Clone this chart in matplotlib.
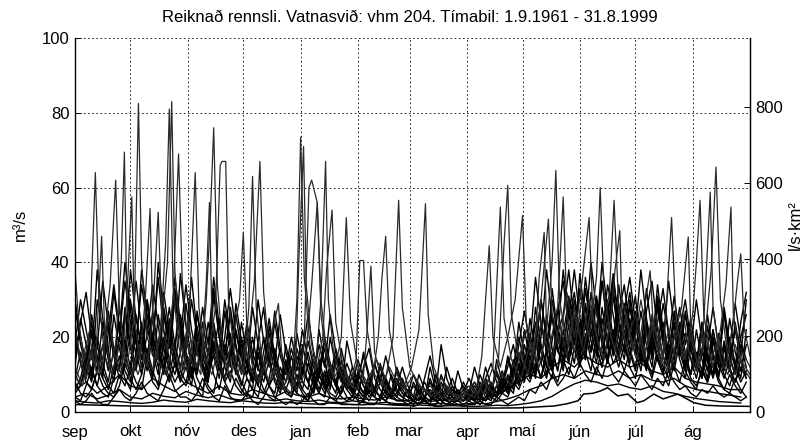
import numpy as np
import matplotlib
matplotlib.use("Agg")
import matplotlib.pyplot as plt

plt.rcParams['font.family'] = ['Liberation Sans', 'DejaVu Sans']

title = "Reiknað rennsli. Vatnasvið: vhm 204. Tímabil: 1.9.1961 - 31.8.1999"
months = ['sep', 'okt', 'nóv', 'des', 'jan', 'feb', 'mar', 'apr', 'maí', 'jún', 'júl', 'ág']
month_start = [0, 30, 61, 91, 122, 153, 181, 212, 242, 273, 303, 334]
area_factor = 9.8   # l/s/km2 per m3/s

# ---- years carrying the tallest peaks: (day, m3/s) ----
peak_year_a = [(0,8),(4,14),(8,22),(11,64),(13,30),(16,15),(20,10),(24,18),(28,12),(32,25),(34.3,82.5),(36,40),(39,20),(43,14),(47,24),(50,16),(53,30),(56,69),(58,35),(61,18),(64,12),(68,22),(72,15),(76,28),(78.5,66),(79.5,67),(81.5,67),(83,30),(86,16),(90,10),(94,20),(97,35),(100,67),(102,32),(105,16),(109,10),(113,7),(117,12),(121,8),(124,20),(126.5,60),(128,62),(131,56),(133,30),(136,16),(140,10),(144,20),(146.7,52),(149,24),(153,12),(158,8),(163,14),(168,9),(172,20),(175,56.6),(177,28),(181,12),(186,7),(192,5),(198,9),(204,5),(210,4),(216,8),(221,5),(226,12),(230,54.8),(232,25),(236,14),(241,9),(246,18),(251,12),(255,22),(258,40),(260,64.6),(262,30),(266,18),(270,26),(275,16),(280,30),(285,20),(289,32),(291.5,56.6),(294,28),(298,18),(303,26),(308,16),(313,24),(318,14),(320,30),(322.6,52),(325,24),(329,14),(333,20),(337,12),(341,22),(344,38),(346.6,65.5),(349,30),(353,15),(357,10),(361,16),(365,12)]

peak_year_b = [(0,12),(4,7),(8,16),(12,10),(16,20),(19,34),(22,62),(24,28),(27,15),(31,10),(35,18),(39,12),(42,26),(45,53.4),(47,24),(50,40),(52.3,83),(54,38),(57,18),(61,11),(64,20),(68,12),(71,30),(73,50),(75,76),(77,34),(80,16),(84,9),(88,16),(91,10),(94,28),(96,63),(98,28),(101,14),(105,8),(109,12),(113,7),(117,5),(120,30),(122,73.5),(124,36),(127,18),(130,11),(133,30),(135.5,67),(137,30),(140,15),(144,10),(148,7),(152,12),(156,8),(160,6),(164,20),(166,36),(168,47),(170,22),(174,10),(178,7),(182,12),(186,22),(189.5,55.7),(191,26),(194,12),(198,7),(203,5),(208,4),(213,7),(218,5),(222,9),(226,7),(229,14),(232,45),(234,60.6),(236,26),(240,14),(244,22),(248,13),(252,24),(256,16),(261,28),(264,57.5),(266,26),(270,16),(274,30),(278,20),(282,36),(284,60),(286,32),(290,20),(294,14),(298,26),(302,17),(306,30),(310,18),(314,26),(318,15),(322,11),(326,22),(330,14),(334,26),(336,40),(338,56.6),(340,26),(344,14),(348,20),(352,12),(356,24),(358,34),(360,42.3),(362,22),(365,15)]

peak_year_c = [(0,38),(2,24),(5,14),(8,20),(11,12),(14.4,47),(16,22),(19,12),(22,18),(25,40),(26.7,69.5),(28,30),(31,15),(34,10),(38,16),(42,11),(46,20),(49,45),(51,81),(53,34),(56,18),(59,11),(62,28),(65,64),(67,28),(70,15),(74,10),(78,18),(82,12),(86,22),(89,30),(91,48),(93,22),(96,12),(100,8),(104,14),(108,9),(112,6),(116,10),(119,7),(121,40),(123.6,71),(125,34),(128,18),(131,12),(134,20),(136,38),(139,54),(141,24),(145,12),(149,8),(152,14),(154,40.5),(156,40.5),(158,22),(162,10),(166,7),(170,12),(174,8),(178,6),(183,10),(188,6),(194,4),(200,7),(206,4),(212,3),(217,6),(220,15),(222,30),(224,44.5),(226,20),(230,12),(234,20),(238,30),(242,52.5),(244,24),(248,16),(252,30),(256,51.6),(258,26),(262,18),(266,32),(270,20),(274,34),(278,52),(280,26),(284,16),(288,24),(292,16),(296,30),(300,20),(304,14),(308,28),(311,37.8),(313,20),(317,13),(321,22),(325,14),(329,26),(332,16),(336,11),(340,24),(343.5,58.8),(345,28),(349,14),(353,10),(357,18),(361,12),(365,9)]

peak_year_d = [(0,22),(3,14),(6,9),(10,18),(14,10),(18,26),(21,16),(25,10),(28,30),(30.7,57.5),(32,26),(35,14),(38,30),(40.6,54.4),(42,26),(45,14),(49,10),(53,18),(57,11),(61,24),(64,15),(68,10),(71,35),(72.7,56),(74,26),(77,14),(81,9),(85,15),(88,10),(92,18),(95,11),(99,8),(103,14),(106,20),(110,29),(112,14),(116,8),(120,6),(124,10),(128,34),(131,56),(133,26),(136,14),(140,9),(144,13),(148,8),(152,6),(156,10),(158,22),(160,39),(162,16),(166,8),(170,5),(175,9),(180,5),(186,4),(192,7),(198,4),(205,3),(211,5),(216,4),(221,8),(226,5),(231,10),(236,7),(241,16),(245,10),(249,20),(251,36),(253.7,48),(255,22),(258,14),(262,24),(266,15),(270,28),(274,18),(278,30),(282,20),(286,14),(290,26),(292,38),(294.6,48.5),(296,22),(300,14),(304,22),(308,14),(312,26),(316,16),(320,11),(324,20),(328,28),(331.6,46.8),(333,22),(337,12),(341,20),(345,12),(349,22),(352,34),(354.7,54.8),(356,26),(360,14),(365,10)]

# ---- lowest year (day, m3/s) ----
low_year = [(0,2.0),(30,1.6),(60,1.5),(90,1.4),(120,1.2),(150,1.1),(180,1.0),(210,1.0),(240,1.1),(259,1.6),(266,2.2),(272,3),(275,4.8),(280,5.0),(284,5.6),(288,6.5),(293.5,4.3),(299,4.8),(304,2.5),(307.6,3),(313,4.8),(318,3.5),(326,4.8),(334.6,2.5),(341,1.8),(350,1.6),(365,1.5)]

# ---- other dry years, every 6 days (m3/s) ----
dry_year_a = [3,2.6,2.4,3,2.8, 2.5,2.3,2.6,3.2,2.8, 2.6,3.4,3,2.7,2.5, 3,2.7,2.4,2.3,2.6,
              2.4,2.2,2.1,2.4,2.2, 2,1.9,2.2,2,1.8, 1.7,1.9,1.7,1.6,1.7, 1.6,1.5,1.6,1.8,1.7,
              2,2.4,3,4.2,6, 7.5,8.5,8,7,7.5, 6.5,6,7,5.5,5, 4.2,3.6,3.2,2.8,2.6, 2.4]
dry_year_b = [4,5,3.5,4.5,6, 4,3.5,5,4.2,3.8, 5.5,4.5,3.8,4.6,3.5, 3.2,4,3.4,3,3.5,
              3,2.8,3.2,2.6,2.5, 3,2.5,2.3,2.6,2.2, 2.2,2.5,2.1,2.3,2, 2.1,2.4,2.2,2.8,3.5,
              4.5,6,7,9,10, 9,11,10,9.5,11, 9,10,8.5,8,9, 7,6,5.5,5,4.5, 4]
dry_year_c = [6,8,5,7,10, 7,6,9,7,5.5, 8,6.5,5,7,5, 4.5,6,5,4,5.5,
              4.5,4,5,3.8,3.5, 4,3.5,3.2,4,3.2, 3,3.5,2.8,3.2,2.8, 3,3.5,3.2,4.5,6,
              8,10,9,12,14, 12,15,13,12,14, 12,13,11,10,12, 9,8,7.5,7,6, 6]

# ---- typical years, every 3 days (m3/s) ----
year_01 = [12,25,18,9,30,22,14,8,20,35, 24,15,38,26,16,10,28,19,33,22, 14,9,27,18,11,31,20,12,8,22,
           15,9,6,19,28,14,8,5,12,7, 5,18,11,7,22,13,8,5,14,9, 6,4,12,17,9,6,4,10,6,4,
           3,8,5,3,12,6,4,3,7,4, 3,6,4,10,6,4,14,8,5,9, 16,10,25,17,30,19,12,27,35,22,
           28,18,36,24,30,20,34,26,17,29, 22,31,18,12,26,17,29,21,14,24, 16,10,22,14,9,19,12,26,15,10, 18,12]
year_02 = [6,9,16,11,7,14,24,15,9,12, 30,19,12,21,34,23,14,9,18,26, 17,36,21,13,9,16,25,15,28,18,
           11,22,14,8,16,25,15,9,6,10, 21,13,8,5,12,19,11,7,17,10, 7,14,9,5,4,8,15,9,5,4,
           6,4,3,9,15,8,5,3,4,11, 6,4,3,5,9,5,4,7,12,18, 11,22,14,9,20,38,25,16,21,30,
           19,33,22,40,27,18,25,37,24,16, 30,20,14,27,35,22,15,11,20,28, 18,25,14,9,17,28,17,11,20,13, 9,22]
year_03 = [4,3,7,12,7,5,4,9,15,9, 6,14,22,13,8,6,12,25,15,9, 7,11,6,4,17,10,6,13,21,12,
           8,5,4,10,6,4,3,8,14,8, 5,4,3,7,12,7,4,3,5,9, 5,3,3,6,4,3,9,5,3,3,
           2,3,5,3,2,2,4,7,4,3, 2,3,2,4,3,5,4,6,9,7, 12,8,15,10,18,12,9,22,14,19,
           13,24,16,11,20,14,26,17,12,18, 12,9,16,11,22,14,10,7,13,19, 11,8,6,12,8,15,9,6,5,9, 6,4]
year_04 = [20,13,8,6,11,18,11,26,17,11, 8,16,10,30,19,36,22,14,10,16, 29,18,11,24,15,33,20,13,17,10,
           24,15,10,7,13,21,13,26,16,10, 7,15,26,16,10,6,13,8,5,19, 12,8,5,9,6,12,7,5,11,7,
           5,10,6,4,3,5,18,9,5,4, 8,5,12,7,4,6,10,6,15,10, 24,15,11,28,18,12,33,21,26,38,
           24,15,29,20,31,21,14,33,21,27, 36,24,16,23,15,31,21,14,26,17, 27,17,11,24,15,10,21,13,17,29, 19,14]
year_05 = [8,5,4,6,11,7,5,4,7,13, 9,6,10,17,11,7,20,12,8,11, 8,14,9,6,11,19,12,8,5,9,
           6,4,12,7,5,9,17,10,6,4, 10,6,4,9,5,4,11,7,4,3, 4,8,5,3,6,4,3,5,8,5,
           4,3,2,4,6,4,3,2,3,5, 4,3,5,3,7,4,3,5,4,8, 6,10,8,13,9,16,11,8,14,10,
           17,12,21,14,10,18,13,22,15,11, 16,11,19,13,9,15,11,18,12,8, 14,9,7,11,8,13,8,6,10,7, 5,8]
year_06 = [15,24,32,20,13,9,27,17,11,28, 18,12,24,15,10,26,17,11,32,20, 13,9,20,13,8,24,15,30,19,12,
           18,12,28,18,11,7,10,17,11,20, 13,8,6,16,10,7,20,12,8,13, 9,6,4,7,13,8,5,4,7,12,
           7,4,3,6,4,3,8,5,3,6, 4,3,6,4,9,13,8,5,7,11, 7,13,21,14,9,16,26,17,11,24,
           32,21,14,27,18,35,23,15,29,19, 13,24,16,33,21,14,10,19,31,20, 13,22,14,9,26,16,10,18,11,24, 15,30]
year_07 = [3,2,3,5,3,2,2,4,6,4, 3,5,8,5,4,3,6,10,6,4, 4,3,5,9,6,4,3,7,4,3,
           3,5,3,2,4,7,4,3,2,3, 2,3,5,3,2,2,4,3,2,2, 2,2,3,2,2,4,3,2,2,2,
           2,1.5,2,3,2,1.5,1.5,2,3,2, 1.5,2,2,3,2,2,4,3,2,3, 4,3,6,5,8,6,10,7,9,12,
           9,13,10,8,12,9,14,10,8,11, 9,7,10,8,6,9,7,11,8,6, 7,5,4,6,5,7,5,4,5,4, 3,4]
year_08 = [9,16,10,22,14,9,6,12,20,13, 21,35,22,14,27,17,11,23,15,37, 23,15,10,19,12,22,14,9,15,26,
           16,10,20,12,8,14,9,6,18,11, 7,10,16,10,6,11,7,14,9,6, 10,6,4,8,5,10,6,4,5,9,
           5,3,7,4,3,4,10,6,4,3, 5,3,4,7,5,8,5,10,7,14, 9,18,12,24,16,10,19,28,18,13,
           23,15,28,19,13,25,17,31,20,14, 25,17,11,22,14,28,18,12,21,14, 9,17,11,21,14,9,15,10,7,12, 8,11]
year_09 = [5,7,12,8,18,11,7,5,10,7, 12,8,6,15,9,19,12,8,13,8, 12,7,18,11,7,5,13,8,11,7,
           5,9,6,4,11,7,13,8,5,4, 8,5,3,6,14,8,5,4,7,4, 3,5,3,7,4,3,6,4,3,3,
           3,2,4,3,2,7,4,3,2,4, 3,5,3,2,4,3,7,5,10,6, 10,14,9,19,13,9,16,11,20,14,
           19,13,17,25,17,12,19,13,16,24, 17,12,20,14,10,17,12,9,15,22, 14,10,16,11,8,13,9,17,11,8, 12,9]
year_10 = [28,18,12,24,15,10,21,34,22,15, 10,22,14,29,18,12,17,28,18,12, 20,13,26,17,11,15,9,18,12,29,
           19,12,8,16,10,23,14,9,12,8, 15,10,19,12,8,5,9,17,11,7, 5,9,15,9,6,4,8,5,12,8,
           5,3,5,8,5,3,2,5,9,5, 7,4,3,5,12,7,5,9,6,12, 20,13,9,17,30,20,13,23,16,28,
           18,37,24,16,22,35,23,16,26,34, 22,15,27,18,12,24,33,21,15,22, 30,19,13,17,11,22,14,27,17,12, 20,26]
year_11 = [18,30,22,14,38,25,16,32,21,40, 27,18,34,23,15,40,26,17,30,20, 34,22,15,28,18,36,23,15,26,17,
           11,20,13,30,19,12,24,15,10,17, 11,22,14,9,18,12,26,16,10,7, 12,8,16,10,6,13,8,5,9,6,
           4,7,5,3,9,5,4,12,7,4, 3,5,8,5,3,7,4,9,6,12, 8,15,10,20,13,26,17,11,22,15,
           26,17,33,22,15,28,19,36,24,16, 28,19,13,24,16,34,22,15,27,18, 12,20,13,9,23,15,10,19,12,8, 14,10]
year_12 = [10,7,14,9,20,13,8,17,11,26, 17,11,20,13,25,16,10,19,12,24, 15,10,18,12,8,22,14,9,16,11,
           7,13,8,18,11,7,5,12,8,15, 9,6,13,8,5,10,6,15,9,6, 4,7,5,10,6,4,3,6,4,8,
           5,3,2,4,8,5,3,6,4,3, 5,9,6,4,8,5,11,7,14,9, 18,27,18,36,24,16,30,20,38,25,
           38,25,17,32,21,40,27,18,34,23, 32,21,38,25,17,29,19,35,23,15, 26,17,30,19,13,22,14,28,18,12, 24,32]
year_13 = [22,14,9,17,11,24,16,10,28,18, 12,26,17,11,21,14,32,21,14,9, 16,11,23,15,10,18,12,27,17,11,
           20,13,9,15,10,18,11,7,13,9, 6,12,8,5,10,17,11,7,5,9, 6,10,7,4,6,4,9,6,4,3,
           6,4,10,6,4,3,5,3,6,4, 6,4,3,8,5,4,7,11,7,5, 13,9,17,11,24,16,11,20,13,31,
           21,14,24,16,30,20,13,22,15,26, 18,27,18,12,21,14,24,16,11,19, 21,14,9,16,11,20,13,9,14,22, 14,9]
year_14 = [30,20,13,26,17,35,23,15,24,16, 38,25,17,30,20,14,26,18,36,24, 16,30,20,13,24,16,11,20,33,21,
           14,24,16,11,20,13,27,17,11,8, 17,11,8,14,9,20,13,8,12,8, 5,11,7,5,13,8,5,4,8,5,
           4,3,6,4,3,10,6,4,3,5, 3,4,7,5,3,6,4,8,5,10, 15,10,20,14,9,17,26,17,12,20,
           30,20,14,26,17,12,30,20,14,22, 15,26,17,12,20,30,20,13,24,16, 11,19,13,24,15,10,17,12,25,16, 11,18]

typical_years = [year_01, year_02, year_03, year_04, year_05, year_06, year_07,
                 year_08, year_09, year_10, year_11, year_12, year_13, year_14]
dry_years = [dry_year_a, dry_year_b, dry_year_c]
peak_years = [peak_year_a, peak_year_b, peak_year_c, peak_year_d]

# ---------------- figure ----------------
W, H = 810, 445
fig = plt.figure(figsize=(W / 100, H / 100), dpi=100)
ax = fig.add_axes([75 / W, 33 / H, 675 / W, 374 / H])

for yr in dry_years:
    ax.plot(np.arange(len(yr)) * 6, yr, color='black', lw=1.0)
ld, lv = zip(*low_year)
ax.plot(ld, lv, color='black', lw=1.1)
for yr in typical_years:
    ax.plot(np.arange(len(yr)) * 3, yr, color='black', lw=1.0)
for yr in peak_years:
    d, v = zip(*yr)
    ax.plot(d, v, color='#2a2a2a', lw=0.9)

ax.set_xlim(0, 365)
ax.set_ylim(0, 100)
ax.set_xticks(month_start)
ax.set_xticklabels(months, fontsize=12)
ax.set_yticks([0, 20, 40, 60, 80, 100])
ax.tick_params(axis='both', direction='in', length=4, width=0.7, labelsize=12, pad=4)
ax.tick_params(axis='x', pad=9)
ax.grid(True, color='black', lw=0.6, linestyle=(0, (2, 3)))
ax.spines['top'].set_visible(False)
for s in ['left', 'right', 'bottom']:
    ax.spines[s].set_linewidth(0.9)
ax.set_ylabel('m³/s', fontsize=12, labelpad=10)

ax2 = ax.twinx()
ax2.set_ylim(0, 100 * area_factor)
ax2.set_yticks([0, 200, 400, 600, 800])
ax2.tick_params(axis='y', direction='in', length=4, width=0.7, labelsize=12, pad=4)
ax2.spines['top'].set_visible(False)
ax2.spines['right'].set_linewidth(0.9)
ax2.set_ylabel('l/s·km²', fontsize=12, labelpad=3)

fig.text(410 / W, 1 - 18 / H, title, ha='center', va='center', fontsize=12)

fig.savefig('out.png', dpi=100)
